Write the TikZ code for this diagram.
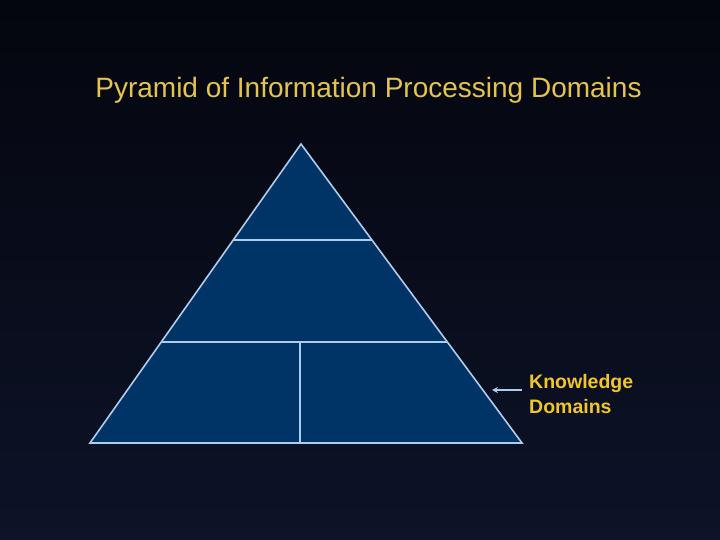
\documentclass[tikz,border=0pt]{standalone}
\usepackage{fontspec}
\setmainfont{Liberation Sans}
\usetikzlibrary{calc,arrows.meta}
\definecolor{SlideTop}{RGB}{4,6,14}
\definecolor{SlideBottom}{RGB}{13,19,40}
\definecolor{TitleGold}{RGB}{228,196,78}
\definecolor{LabelGold}{RGB}{240,198,40}
\definecolor{LayerFill}{RGB}{0,52,102}
\definecolor{LayerEdge}{RGB}{176,204,236}

\begin{document}
\begin{tikzpicture}[x=1pt,y=1pt]
  \tikzset{layer/.style={draw=LayerEdge,line width=1.6pt,line join=miter},
           divider/.style={draw=LayerEdge,line width=1.6pt}}
  \shade[top color=SlideTop,bottom color=SlideBottom] (0,0) rectangle (720,540);
  \useasboundingbox (0,0) rectangle (720,540);
  % title
  \node[anchor=base,font=\fontsize{28}{32}\selectfont,text=TitleGold,inner sep=0]
    (title) at (368.5,442) {Pyramid of Information Processing Domains};
  % pyramid corners and level marks
  \coordinate (apex) at (301,396);
  \coordinate (baseL) at (90,97);
  \coordinate (baseR) at (522,97);
  \coordinate (baseC) at (300,97);
  \coordinate (midL) at ($(apex)!0.321!(baseL)$);
  \coordinate (midR) at ($(apex)!0.321!(baseR)$);
  \coordinate (lowL) at ($(apex)!0.662!(baseL)$);
  \coordinate (lowR) at ($(apex)!0.662!(baseR)$);
  \coordinate (lowC) at (baseC |- lowL);
  \fill[LayerFill] (apex) -- (baseR) -- (baseL) -- cycle;
  \draw[divider] (midL) -- (midR);
  \draw[divider] (lowL) -- (lowR);
  \draw[divider] (lowC) -- (baseC);
  \draw[layer] (apex) -- (baseR) -- (baseL) -- cycle;
  % side label
  \node[anchor=north west,align=left,inner sep=0,text=LabelGold,
        font=\bfseries\fontsize{19.5}{25}\selectfont] (knowledge) at (529,166)
    {Knowledge\\Domains};
  \coordinate (arrowtail) at (522,150);
  \coordinate (arrowtip) at (492,150);
  \draw[-{Stealth[length=6pt,width=6pt]},LayerEdge,line width=1.2pt]
    (arrowtail) -- (arrowtip);
\end{tikzpicture}
\end{document}
